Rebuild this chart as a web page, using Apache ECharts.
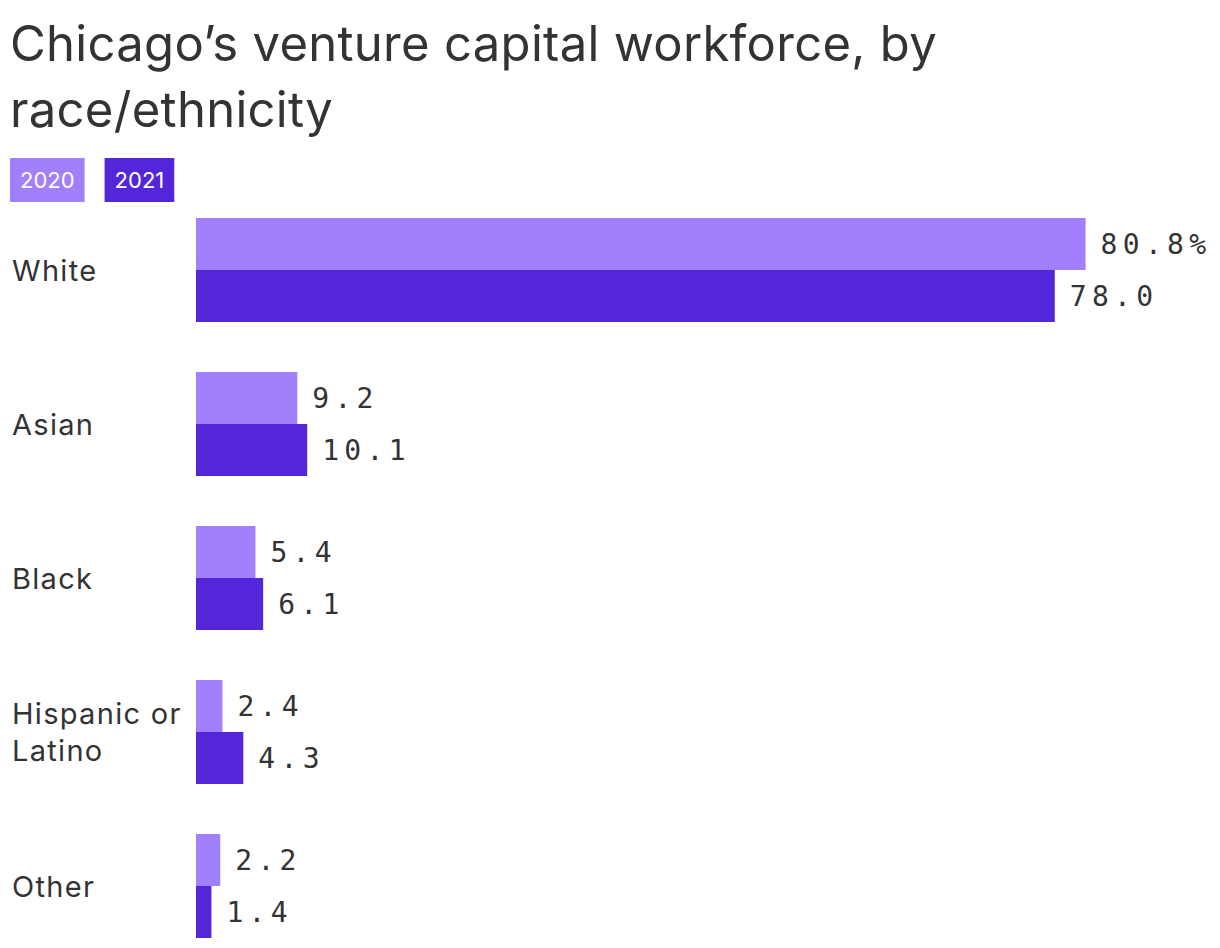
<!DOCTYPE html>
<html>
<head>
<meta charset="utf-8">
<script src="https://cdn.jsdelivr.net/npm/echarts@6/dist/echarts.min.js"></script>
<style>
html,body{margin:0;padding:0;background:#fff;}
#chart{width:1220px;height:948px;}
text[style*="Mono"], text[font-family*="Mono"] { letter-spacing: 5.3px; }
text[style*="49px"], text[font-size*="49"] { letter-spacing: 0.3px; }
text[style*="29px"], text[font-size*="29"] { letter-spacing: 1.3px; }
</style>
</head>
<body>
<div id="chart"></div>
<script>
const titleText = "Chicago\u2019s venture capital workforce, by\nrace/ethnicity";
const categories = ["White", "Asian", "Black", "Hispanic or\nLatino", "Other"];
const seriesNames = ["2020", "2021"];
const values2020 = [80.8, 9.2, 5.4, 2.4, 2.2];
const values2021 = [78.0, 10.1, 6.1, 4.3, 1.4];
const colors = ["#a27ffd", "#5327d9"];

const chart = echarts.init(document.getElementById('chart'), null, {renderer: 'svg'});
const labelStyle = {
  show: true,
  position: 'right',
  distance: 15,
  fontFamily: 'DejaVu Sans Mono',
  fontSize: 28,
  color: '#333'
};
const option = {
  animation: false,
  title: {
    text: titleText,
    left: 10, top: 10, padding: 0,
    textStyle: {fontFamily: 'Inter', fontSize: 49, fontWeight: 'normal', color: '#333', lineHeight: 66}
  },
  legend: {
    left: 5, top: 158, padding: 0,
    icon: 'none', itemWidth: 0, itemHeight: 0, itemGap: 15,
    selectedMode: false,
    data: seriesNames.map((n, i) => ({
      name: n,
      textStyle: {color: '#fff', backgroundColor: colors[i], padding: [11, 10, 11, 10], fontFamily: 'Inter', fontSize: 22, lineHeight: 22}
    }))
  },
  grid: {left: 196, top: 193, width: 1101, height: 770, containLabel: false, outerBoundsMode: 'none'},
  xAxis: {type: 'value', min: 0, max: 100, show: false},
  yAxis: {
    type: 'category', inverse: true, data: categories,
    axisLine: {show: false}, axisTick: {show: false},
    axisLabel: {align: 'left', margin: 184, fontFamily: 'Inter', fontSize: 29, color: '#333', lineHeight: 37}
  },
  series: [
    {
      name: seriesNames[0], type: 'bar', data: values2020, barWidth: 52, barGap: '0%',
      itemStyle: {color: colors[0]},
      label: Object.assign({}, labelStyle, {formatter: p => p.value.toFixed(1) + (p.dataIndex === 0 ? '%' : '')})
    },
    {
      name: seriesNames[1], type: 'bar', data: values2021, barWidth: 52, barGap: '0%',
      itemStyle: {color: colors[1]},
      label: Object.assign({}, labelStyle, {formatter: p => p.value.toFixed(1)})
    }
  ]
};
chart.setOption(option);
</script>
</body>
</html>
